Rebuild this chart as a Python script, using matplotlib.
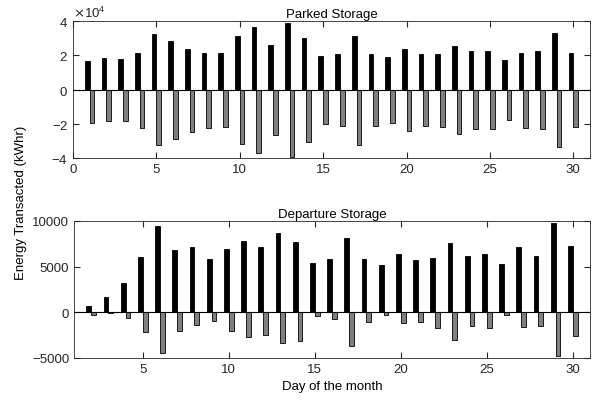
import numpy as np
import matplotlib.pyplot as plt
from matplotlib.ticker import ScalarFormatter

plt.rcParams['font.family'] = ['Liberation Sans', 'DejaVu Sans']
plt.rcParams['font.size'] = 9.5

# Parked storage (kWhr), days 1..30
park_days = np.arange(1, 31)
park_charge = np.array([1.65, 1.82, 1.76, 2.16, 3.24, 2.82, 2.39, 2.16, 2.12, 3.12,
                        3.63, 2.57, 3.88, 3.02, 1.94, 2.06, 3.12, 2.10, 1.90, 2.35,
                        2.10, 2.10, 2.53, 2.25, 2.25, 1.73, 2.16, 2.25, 3.31, 2.14]) * 1e4
park_discharge = np.array([-1.96, -1.84, -1.82, -2.24, -3.27, -2.90, -2.47, -2.24, -2.20, -3.20,
                           -3.73, -2.63, -3.96, -3.08, -2.02, -2.14, -3.22, -2.14, -1.96, -2.43,
                           -2.14, -2.18, -2.61, -2.33, -2.33, -1.78, -2.22, -2.33, -3.35, -2.18]) * 1e4

# Departure storage (kWhr), days 2..30
dep_days = np.arange(2, 31)
dep_charge = np.array([690, 1670, 3240, 6040, 9420, 6870, 7130, 5820, 6980, 7850,
                       7200, 8690, 7750, 5420, 5820, 8110, 5890, 5160, 6360, 5710,
                       6000, 7560, 6150, 6440, 5240, 7160, 6180, 9820, 7240])
dep_discharge = np.array([-250, -100, -650, -2180, -4440, -2000, -1380, -910, -2070, -2730,
                          -2510, -3380, -3130, -360, -690, -3640, -1020, -250, -1200, -1090,
                          -1750, -2980, -1530, -1750, -290, -1560, -1490, -4730, -2550])

w = 0.28
off = 0.14
axc = '#262626'

fig = plt.figure(figsize=(6.01, 4.06), dpi=100)
ax1 = fig.add_axes([73/601, 1 - 159/406, 517/601, 137/406])
ax2 = fig.add_axes([74/601, 1 - 359/406, 516/601, 137/406])

for ax, d, pos, neg in [(ax1, park_days, park_charge, park_discharge),
                        (ax2, dep_days, dep_charge, dep_discharge)]:
    ax.bar(d - off, pos, width=w, color='black', edgecolor='black', linewidth=0.6)
    ax.bar(d + off, neg, width=w, color='#808080', edgecolor='black', linewidth=0.6)
    ax.axhline(0, color='black', linewidth=0.8)
    ax.tick_params(direction='in', top=True, right=True, length=4, colors=axc,
                   labelcolor=axc, labelsize=9.5)
    for s in ax.spines.values():
        s.set_color(axc)
        s.set_linewidth(0.6)

ax1.set_xlim(0, 31)
ax1.set_xticks(np.arange(0, 31, 5))
ax1.set_ylim(-4e4, 4e4)
ax1.set_yticks([-4e4, -2e4, 0, 2e4, 4e4])
fmt = ScalarFormatter(useMathText=True)
fmt.set_powerlimits((0, 0))
ax1.yaxis.set_major_formatter(fmt)
ax1.yaxis.get_offset_text().set_color(axc)
ax1.set_title('Parked Storage', fontsize=9.5, pad=3, color='black')

ax2.set_xlim(1, 31)
ax2.set_xticks(np.arange(5, 31, 5))
ax2.set_ylim(-5000, 10000)
ax2.set_yticks([-5000, 0, 5000, 10000])
ax2.set_title('Departure Storage', fontsize=9.5, pad=3, color='black')
ax2.set_xlabel('Day of the month', fontsize=9.5)

fig.text(0.035, 0.5, 'Energy Transacted (kWhr)', rotation=90, va='center', ha='center',
         fontsize=9.5)

fig.savefig('out.png', dpi=100)
